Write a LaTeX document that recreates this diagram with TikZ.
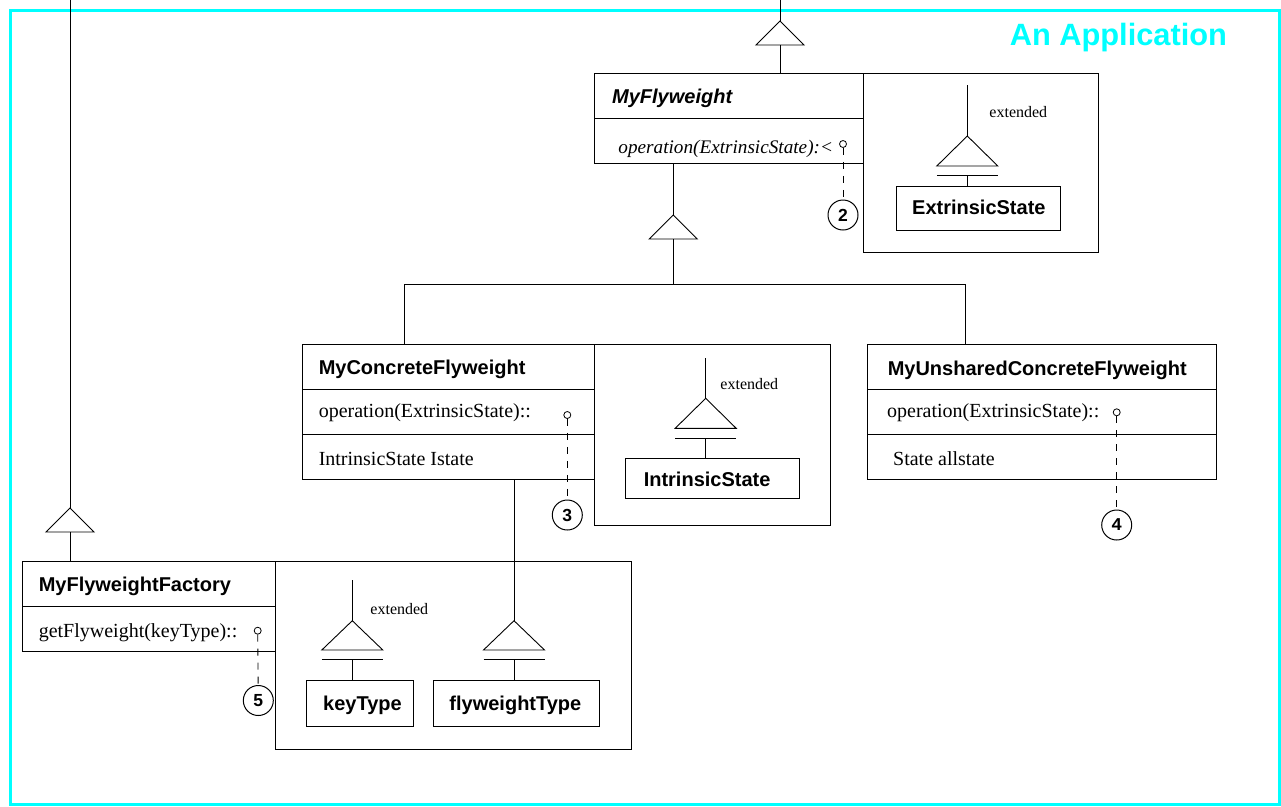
\documentclass[tikz,border=0pt]{standalone}
\usepackage{fontspec}
\setmainfont{Liberation Serif}
\setsansfont{Liberation Sans}
\newfontfamily\codefont{Liberation Mono}
\usetikzlibrary{calc}
\definecolor{appcyan}{RGB}{0,255,255}
\begin{document}
\begin{tikzpicture}[x=1pt,y=-1pt,line width=0.9pt,line join=miter,
  cell/.style={draw,line width=0.95pt,rectangle,inner sep=0pt,outer sep=0pt,anchor=north west},
  cname/.style={anchor=base west,inner sep=0pt,font=\sffamily\bfseries\fontsize{20}{24}\selectfont},
  cop/.style={anchor=base west,inner sep=0pt,font=\rmfamily\fontsize{20}{24}\selectfont},
  exttag/.style={anchor=base west,inner sep=0pt,font=\rmfamily\fontsize{16}{19}\selectfont},
  port/.style={draw,circle,minimum size=7pt,inner sep=0pt,line width=0.8pt},
  num/.style={draw,circle,minimum size=30pt,inner sep=0pt,line width=1pt,font=\sffamily\bfseries\fontsize{17.5}{20}\selectfont},
  link/.style={dash pattern=on 7pt off 7pt,line width=0.9pt},
  gentri/.style={line width=0.9pt},
  frame/.style={draw=appcyan,line width=3pt}]

\useasboundingbox (0,0) rectangle (1281,806);

% application frame and title
\draw[frame] (10,10) rectangle (1279.5,804.5);
\node[anchor=base west,inner sep=0pt,text=appcyan,font=\sffamily\bfseries\fontsize{30.8}{36}\selectfont] (title) at (1009.3,45) {An Application};

% ---------------- MyFlyweight ----------------
\node[cell,minimum width=269pt,minimum height=45pt] (fwName) at (594,73.3) {};
\node[cell,minimum width=269pt,minimum height=45pt] (fwOp) at (594,118.3) {};
\node[cell,minimum width=235.3pt,minimum height=179.4pt] (fwExt) at (863,73.3) {};
\node[cname,font=\sffamily\bfseries\itshape\fontsize{20}{24}\selectfont] (fwNameT) at (611.7,103.3) {MyFlyweight};
\node[cop,font=\rmfamily\itshape\fontsize{19.2}{23}\selectfont] (fwOpT) at (618,153.5) {operation(ExtrinsicState):<};
\node[port] (fwPort) at (843,144) {};
\node[num] (n2) at (843,215) {2};
\draw[link] (fwPort) -- (n2);

% inheritance from above
\coordinate (topEnd) at (780,0);
\coordinate (t0) at (780,21);
\draw (topEnd) -- (t0);
\draw[gentri] (t0) -- ++(24,24) -- ++(-48,0) -- cycle;
\draw ($(t0)+(0,24)$) -- (t0 |- fwName.north);

% extended ExtrinsicState
\coordinate (e1top) at (967.3,85);
\coordinate (e1apex) at (967.3,136);
\draw (e1top) -- (e1apex);
\draw[gentri] (e1apex) -- ++(30.5,30) -- ++(-61,0) -- cycle;
\draw ($(e1apex)+(-30.5,39.7)$) -- ++(61,0);
\node[cell,minimum width=163.3pt,minimum height=44pt] (extrinsic) at (896.7,186) {};
\draw ($(e1apex)+(0,39.7)$) -- (e1apex |- extrinsic.north);
\node[cname] (extrinsicT) at (911.7,214) {ExtrinsicState};
\node[exttag] (ext1T) at (989,117) {extended};

% ---------------- subclass tree ----------------
\coordinate (t1) at (673.3,215);
\draw (t1 |- fwOp.south) -- (t1);
\draw[gentri] (t1) -- ++(24,24) -- ++(-48,0) -- cycle;
\coordinate (hL) at (404.3,284);
\coordinate (hR) at (965.7,284);
\draw ($(t1)+(0,24)$) -- (t1 |- hL);
\draw (hL) -- (hR);

% ---------------- MyConcreteFlyweight ----------------
\node[cell,minimum width=292pt,minimum height=45.3pt] (cfName) at (302,344) {};
\node[cell,minimum width=292pt,minimum height=45pt] (cfOp) at (302,389.3) {};
\node[cell,minimum width=292pt,minimum height=45pt] (cfAttr) at (302,434.3) {};
\node[cell,minimum width=236.7pt,minimum height=181pt] (cfExt) at (594,344) {};
\draw (hL) -- (hL |- cfName.north);
\node[cname] (cfNameT) at (318.3,374) {MyConcreteFlyweight};
\node[cop] (cfOpT) at (318.3,417.5) {operation(ExtrinsicState)::};
\node[cop] (cfAttrT) at (318.3,465.5) {IntrinsicState Istate};
\node[port] (cfPort) at (567.3,415) {};
\node[num] (n3) at (567.3,515) {3};
\draw[link] (cfPort) -- (n3);

% extended IntrinsicState
\coordinate (e2top) at (705.7,358.3);
\coordinate (e2apex) at (705.7,398.3);
\draw (e2top) -- (e2apex);
\draw[gentri] (e2apex) -- ++(30.5,30) -- ++(-61,0) -- cycle;
\draw ($(e2apex)+(-30.5,40)$) -- ++(61,0);
\node[cell,minimum width=174.3pt,minimum height=40.4pt] (intrinsic) at (625,458.3) {};
\draw ($(e2apex)+(0,40)$) -- (e2apex |- intrinsic.north);
\node[cname] (intrinsicT) at (643.3,486) {IntrinsicState};
\node[exttag] (ext2T) at (720,389) {extended};

% ---------------- MyUnsharedConcreteFlyweight ----------------
\node[cell,minimum width=348.7pt,minimum height=45pt] (ufName) at (867.3,344) {};
\node[cell,minimum width=348.7pt,minimum height=45pt] (ufOp) at (867.3,389) {};
\node[cell,minimum width=348.7pt,minimum height=45pt] (ufAttr) at (867.3,434) {};
\draw (hR) -- (hR |- ufName.north);
\node[cname] (ufNameT) at (887.3,375) {MyUnsharedConcreteFlyweight};
\node[cop] (ufOpT) at (886.7,417.3) {operation(ExtrinsicState)::};
\node[cop] (ufAttrT) at (892.7,465) {State allstate};
\node[port] (ufPort) at (1116.7,412.3) {};
\node[num,font=\codefont\bfseries\fontsize{18}{20}\selectfont] (n4) at (1116.7,525) {4};
\draw[link] (ufPort) -- (n4);

% ---------------- MyFlyweightFactory ----------------
\node[cell,minimum width=253pt,minimum height=45.7pt] (ffName) at (22.3,561) {};
\node[cell,minimum width=253pt,minimum height=45pt] (ffOp) at (22.3,606.7) {};
\node[cell,minimum width=355.7pt,minimum height=188pt] (ffExt) at (275.3,561) {};
\node[cname] (ffNameT) at (38.3,591.7) {MyFlyweightFactory};
\node[cop] (ffOpT) at (38.3,637) {getFlyweight(keyType)::};
\node[port] (ffPort) at (257.7,630.7) {};
\node[num] (n5) at (258.3,700.5) {5};
\draw[link] (ffPort) -- (n5);

% inheritance of the factory
\coordinate (leftEnd) at (70,0);
\coordinate (t2) at (70,508);
\draw (leftEnd) -- (t2);
\draw[gentri] (t2) -- ++(24,24) -- ++(-48,0) -- cycle;
\draw ($(t2)+(0,24)$) -- (t2 |- ffName.north);

% extended keyType
\coordinate (e3top) at (352.3,580);
\coordinate (e3apex) at (352.3,620.7);
\draw (e3top) -- (e3apex);
\draw[gentri] (e3apex) -- ++(30.5,29.3) -- ++(-61,0) -- cycle;
\draw ($(e3apex)+(-30.5,38.6)$) -- ++(61,0);
\node[cell,minimum width=106.6pt,minimum height=46pt] (keyType) at (306.7,680) {};
\draw ($(e3apex)+(0,38.6)$) -- (e3apex |- keyType.north);
\node[cname] (keyTypeT) at (322.7,710) {keyType};
\node[exttag] (ext3T) at (370,614) {extended};

% flyweightType, bound from MyConcreteFlyweight
\coordinate (e4apex) at (514,620.7);
\draw (e4apex |- cfAttr.south) -- (e4apex);
\draw[gentri] (e4apex) -- ++(30.5,29.3) -- ++(-61,0) -- cycle;
\draw ($(e4apex)+(-30.5,38.6)$) -- ++(61,0);
\node[cell,minimum width=166pt,minimum height=46pt] (flyType) at (433.3,680) {};
\draw ($(e4apex)+(0,38.6)$) -- (e4apex |- flyType.north);
\node[cname] (flyTypeT) at (449,710) {flyweightType};

\end{tikzpicture}
\end{document}
